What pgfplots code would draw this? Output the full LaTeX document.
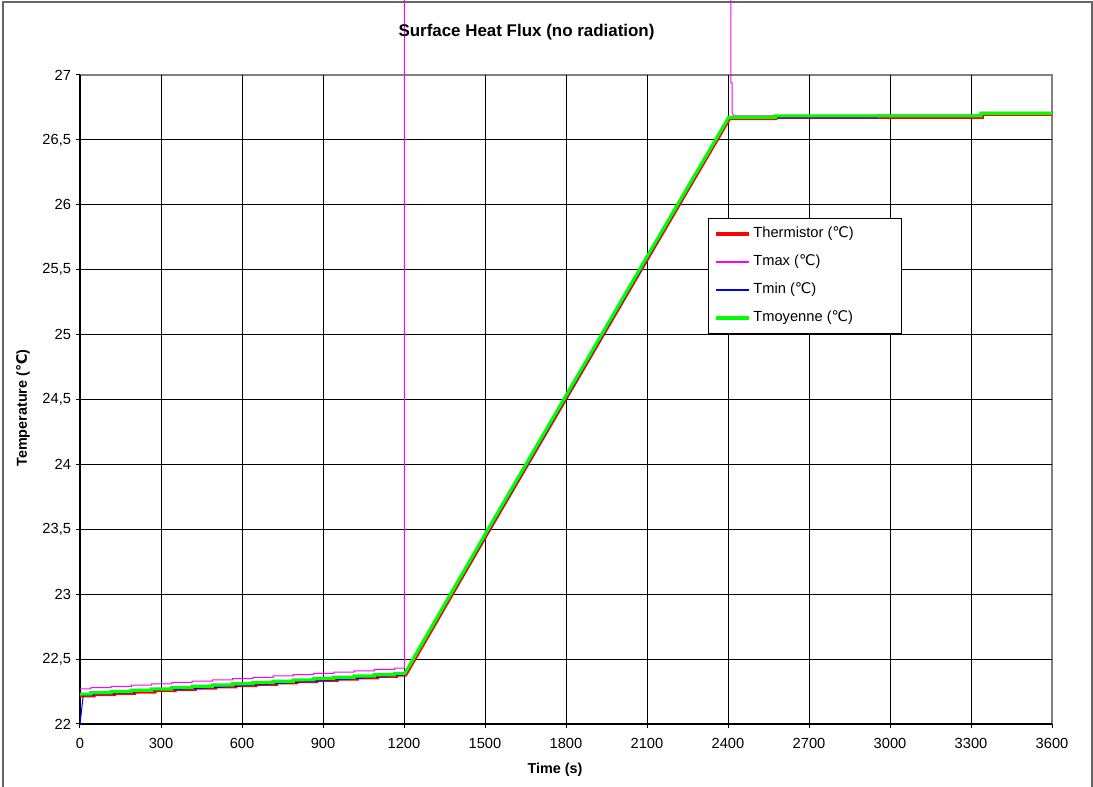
\documentclass[border=0pt]{standalone}
\usepackage{pgfplots}
\pgfplotsset{compat=1.18}
\usepackage{fontspec}
\setmainfont{Liberation Sans}
\newfontfamily\djv{DejaVu Sans}
\newcommand{\degC}{{\djv ℃}}
\definecolor{xlred}{RGB}{255,0,0}
\definecolor{xlmag}{RGB}{255,0,255}
\definecolor{xlblue}{RGB}{0,0,255}
\definecolor{xlgreen}{RGB}{0,255,0}
\begin{document}
\begin{tikzpicture}[x=0.75pt,y=0.75pt]
\begin{axis}[
  scale only axis,
  width=729pt, height=486.75pt,
  xmin=0, xmax=3600, ymin=22, ymax=27,
  xtick={0,300,...,3600}, ytick={22,22.5,23,23.5,24,24.5,25,25.5,26,26.5,27},
  minor xtick={300,600,...,3300},
  minor ytick={22.5,23,23.5,24,24.5,25,25.5,26,26.5},
  grid=minor, minor tick length=0pt,
  minor grid style={black, line width=0.6pt},
  axis x line*=bottom, axis y line*=left,
  axis line style={black, line width=0.9pt},
  axis background/.style={draw=black!50, line width=1pt},
  tick align=outside, major tick length=3.2pt,
  major tick style={black, line width=0.75pt},
  tick label style={font=\fontsize{11}{13}\selectfont},
  xticklabel style={yshift=-4pt},
  /pgf/number format/assume math mode=true,
  /pgf/number format/use comma,
  /pgf/number format/1000 sep={},
  clip=false,
  legend style={at={(0.646,0.7797)}, anchor=north west, draw=black, line width=0.75pt,
    fill=white, font=\fontsize{11}{13}\selectfont, inner xsep=4pt, inner ysep=4.1pt,
    row sep=6pt, nodes={inner sep=2pt, text height=8.5pt, text depth=2.5pt}},
  legend cell align=left,
  legend image code/.code={\draw[#1] (0pt,0pt) -- (24.75pt,0pt);},
]
\coordinate (pO) at (rel axis cs:0,0);
% Thermistor
\addplot[draw=xlred, line width=3pt] coordinates {
(0,22.22) (50,22.22) (50,22.23) (125,22.23) (125,22.24) (200,22.24) (200,22.25)
(275,22.25) (275,22.26) (350,22.26) (350,22.27) (425,22.27) (425,22.28)
(500,22.28) (500,22.29) (575,22.29) (575,22.30) (650,22.30) (650,22.31)
(725,22.31) (725,22.32) (800,22.32) (800,22.33) (875,22.33) (875,22.34)
(950,22.34) (950,22.35) (1025,22.35) (1025,22.36) (1100,22.36) (1100,22.37)
(1170,22.37) (1170,22.38) (1205,22.38)
(1502,23.45) (1802,24.52) (2102,25.59) (2405,26.668)
(2575,26.668) (2575,26.678) (3340,26.678) (3340,26.70) (3600,26.70)
};
% Tmax
\addplot[draw=xlmag, line width=0.75pt, legend image post style={draw=xlmag, line width=1.1pt}] coordinates {
(0,22.27) (40,22.27) (40,22.28) (115,22.28) (115,22.29) (190,22.29) (190,22.30)
(265,22.30) (265,22.31) (340,22.31) (340,22.32) (415,22.32) (415,22.33)
(490,22.33) (490,22.34) (565,22.34) (565,22.35) (640,22.35) (640,22.36)
(715,22.36) (715,22.37) (790,22.37) (790,22.38) (865,22.38) (865,22.39)
(940,22.39) (940,22.40) (1015,22.40) (1015,22.41) (1090,22.41) (1090,22.42)
(1165,22.42) (1165,22.43) (1201,22.43) (1201,28.5) (2411,28.5)
(2411,26.94) (2415,26.94) (2415,26.71) (2422,26.685) (3337,26.685) (3337,26.705)
(3600,26.705)
};
% Tmin
\addplot[draw=xlblue, line width=0.75pt, legend image post style={draw=xlblue, line width=1.1pt}] coordinates {
(0,22.0) (12,22.22) (50,22.22) (50,22.23) (125,22.23) (125,22.24) (200,22.24)
(200,22.25) (500,22.28) (800,22.32) (1100,22.36) (1203,22.38)
(1503,23.45) (1803,24.52) (2103,25.59) (2405,26.67)
(2950,26.67) (2950,26.69) (3340,26.69) (3340,26.70) (3600,26.70)
};
% Tmoyenne
\addplot[draw=xlgreen, line width=2.4pt] coordinates {
(0,22.23) (40,22.23) (40,22.24) (115,22.24) (115,22.25) (190,22.25) (190,22.26)
(265,22.26) (265,22.27) (340,22.27) (340,22.28) (415,22.28) (415,22.29)
(490,22.29) (490,22.30) (565,22.30) (565,22.31) (640,22.31) (640,22.32)
(715,22.32) (715,22.33) (790,22.33) (790,22.34) (865,22.34) (865,22.35)
(940,22.35) (940,22.36) (1015,22.36) (1015,22.37) (1090,22.37) (1090,22.38)
(1165,22.38) (1165,22.39) (1203,22.39)
(1500,23.46) (1800,24.53) (2100,25.60) (2403,26.675)
(2575,26.675) (2575,26.685) (3337,26.685) (3337,26.705) (3600,26.705)
};
\legend{\makebox[105pt][l]{Thermistor (\degC)}, Tmax (\degC), Tmin (\degC), Tmoyenne (\degC)}
\end{axis}
\pgfresetboundingbox
\begin{scope}[shift={(pO)}, shift={(-80,-63)}]
\useasboundingbox (0,0) rectangle (1093,787);
\node[font=\bfseries\fontsize{12.7}{15}\selectfont] at (526.5,755) {Surface Heat Flux (no radiation)};
\node[font=\bfseries\fontsize{10.8}{13}\selectfont] at (555,17) {Time (s)};
\node[font=\bfseries\fontsize{10.8}{13}\selectfont, rotate=90] at (23,379) {Temperature (\degC)};
\draw[draw=black!60, line width=1.5pt] (3,-10) -- (3,785) -- (1092,785) -- (1092,-10);
\end{scope}
\end{tikzpicture}
\end{document}
